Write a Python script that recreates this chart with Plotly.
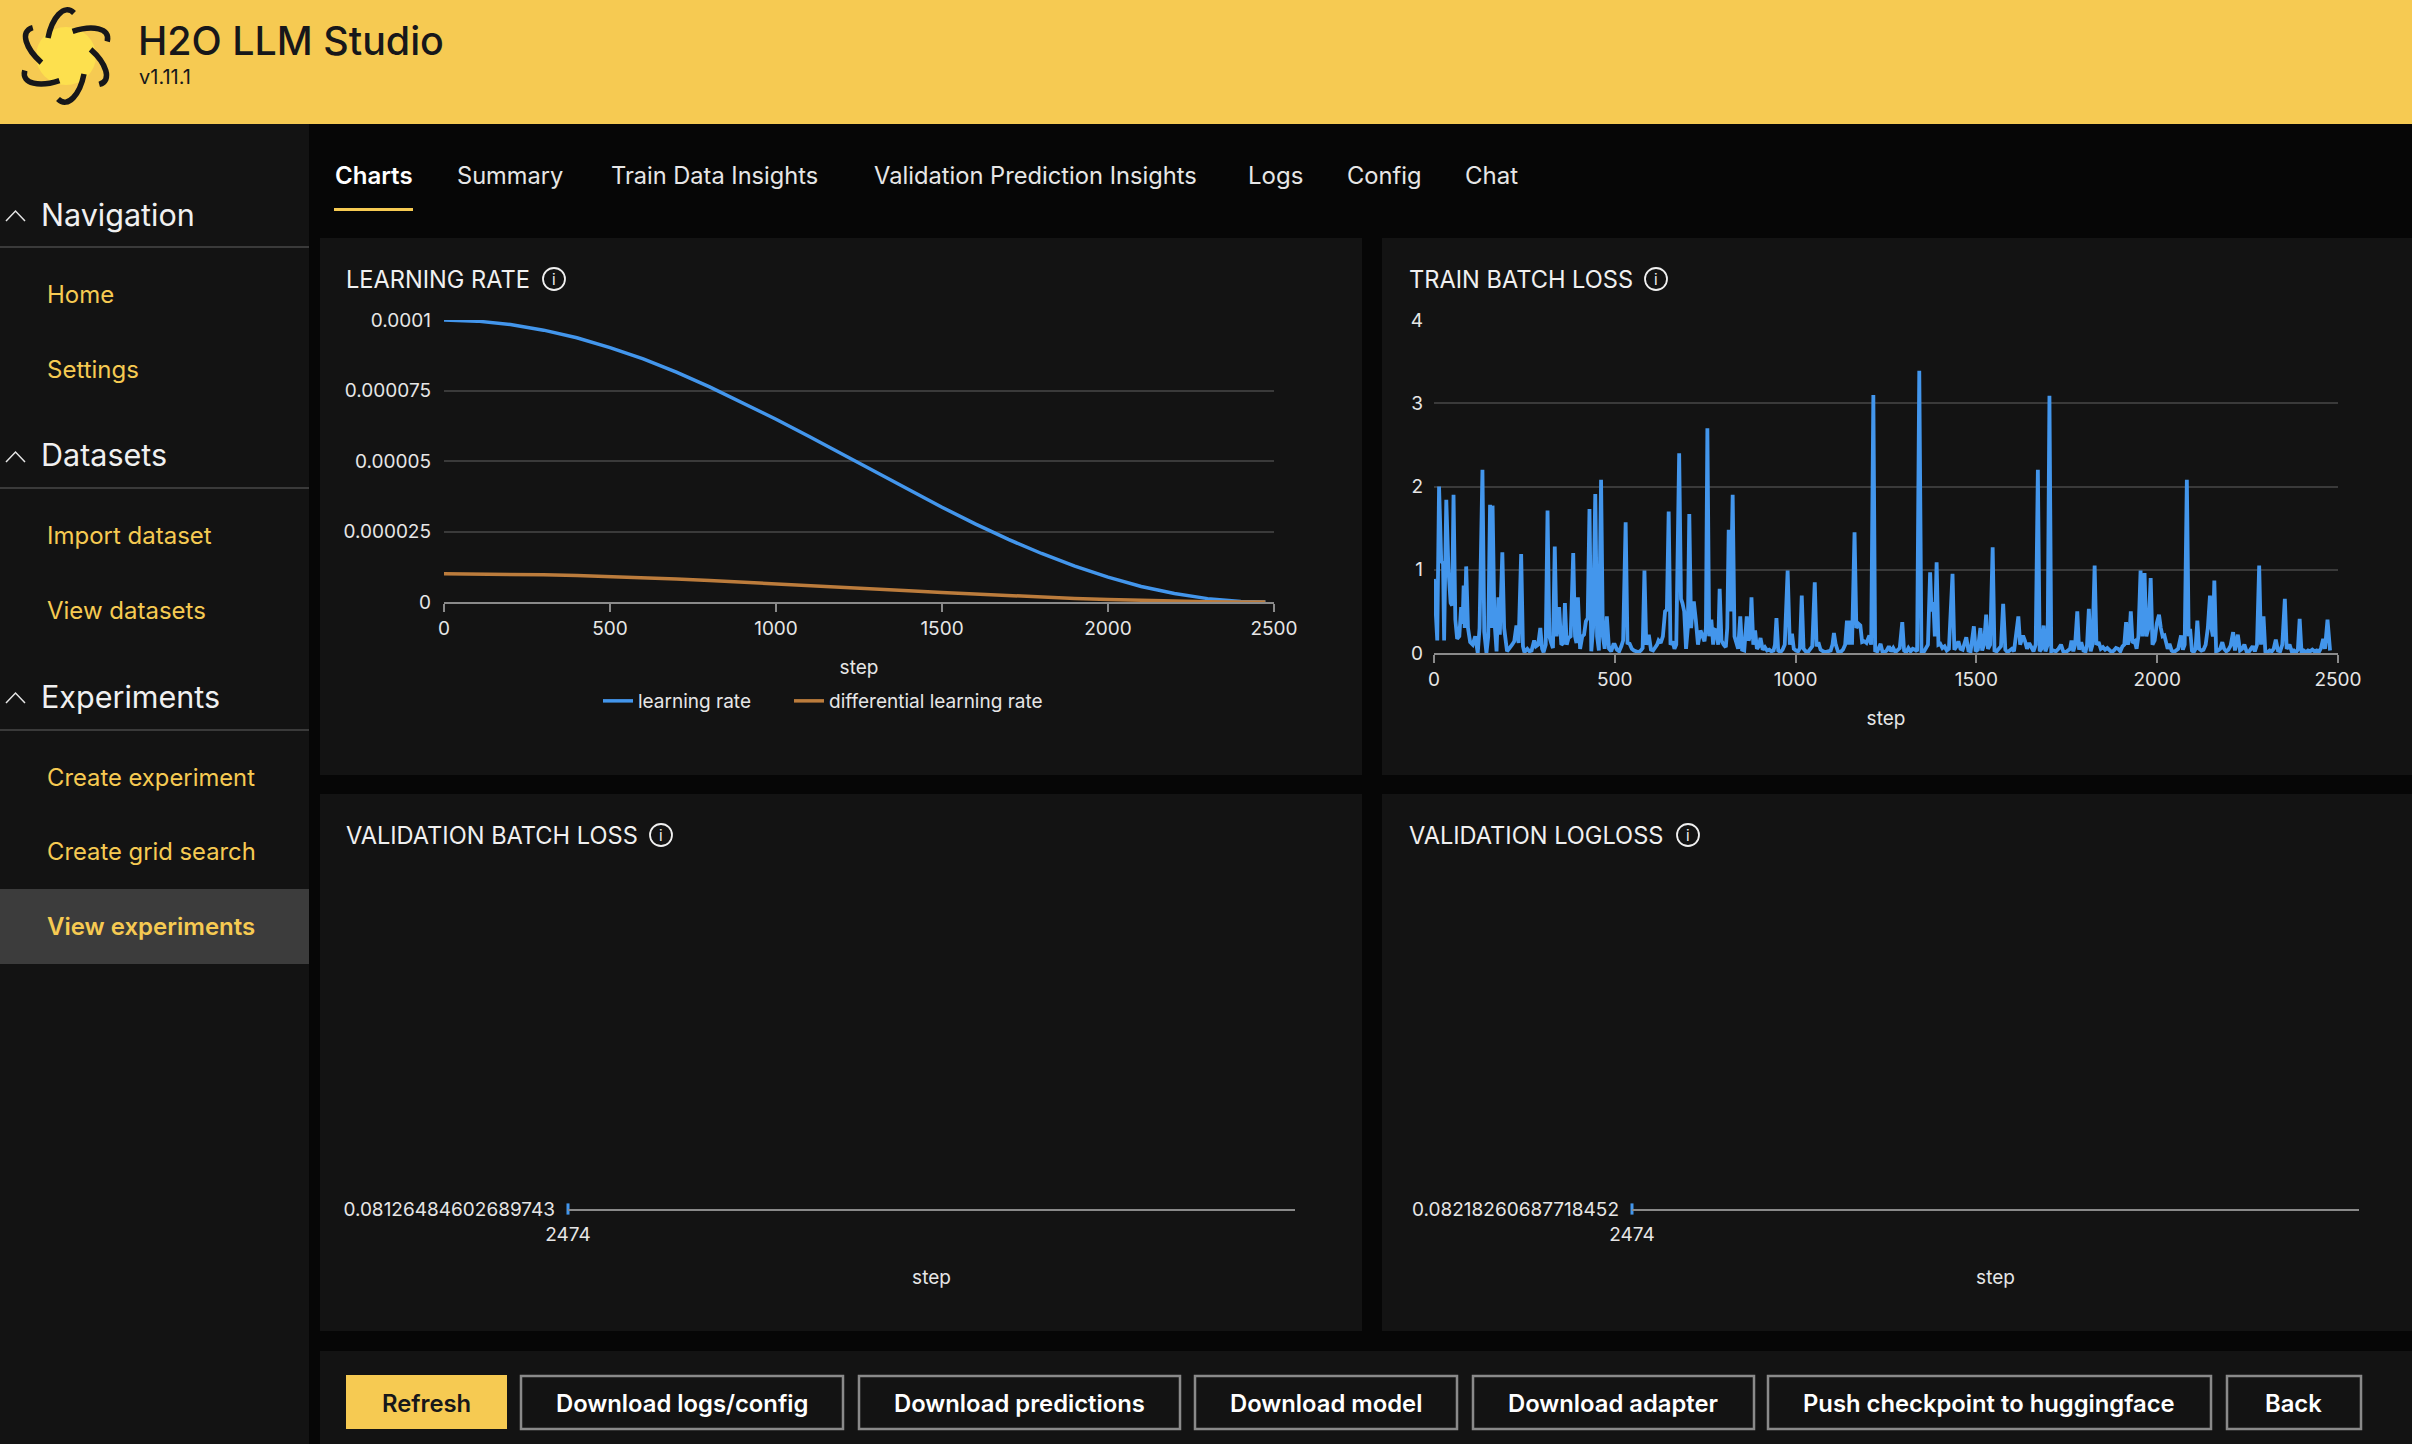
import numpy as np
import plotly.graph_objects as go

# Tamaño de la captura completa
W = 2412
H = 1444

AMARILLO = "#F6CA52"
FONDO = "#060606"
TARJETA = "#131313"
REJILLA = "#3A3A3A"
EJE = "#8A8A8A"
TEXTO = "#E6E6E6"
AZUL = "#4396EC"
NARANJA = "#BC7C3C"


def px(x):
    return x / W


def py(y):
    return 1 - y / H


# Curvas de learning rate
lr_steps = [0, 100, 200, 300, 400, 500, 600, 700, 800, 900, 1000, 1100, 1200, 1300,
            1400, 1500, 1600, 1700, 1800, 1900, 2000, 2100, 2200, 2300, 2400, 2474]
lr = [1.0e-4, 9.96e-5, 9.84e-5, 9.64e-5, 9.37e-5, 9.02e-5, 8.62e-5, 8.15e-5, 7.63e-5,
      7.07e-5, 6.48e-5, 5.87e-5, 5.24e-5, 4.6e-5, 3.97e-5, 3.36e-5, 2.77e-5, 2.22e-5,
      1.72e-5, 1.27e-5, 8.8e-6, 5.5e-6, 3.0e-6, 1.2e-6, 2e-7, 0]
diff_lr = [1.0e-5, 9.96e-6, 9.84e-6, 9.64e-6, 9.37e-6, 9.02e-6, 8.62e-6, 8.15e-6, 7.63e-6,
           7.07e-6, 6.48e-6, 5.87e-6, 5.24e-6, 4.6e-6, 3.97e-6, 3.36e-6, 2.77e-6, 2.22e-6,
           1.72e-6, 1.27e-6, 8.8e-7, 5.5e-7, 3.0e-7, 1.2e-7, 2e-8, 0]

# Train batch loss: (step, loss)
train_loss = [
    (0, .89), (9, .15), (14, 2.0), (20, 1.1), (25, 1.08), (28, .15), (34, 1.84), (40, 1.0), (46, .6), (50, .57),
    (54, 1.9), (59, .4), (64, .17), (70, .2), (75, .55), (79, .35), (82, .81), (85, .3), (89, 1.04), (94, .3),
    (100, .13), (107, .1), (114, .2), (118, .05), (121, 0), (126, .3), (134, 2.2), (139, .25), (145, 0), (150, .2),
    (155, 1.78), (158, .3), (162, 1.77), (167, .4), (173, .02), (178, .67), (182, .22), (189, 1.21), (194, .3), (202, .02),
    (210, .06), (216, .1), (222, .14), (228, .33), (234, .12), (241, 1.19), (246, .08), (250, .01), (258, .05), (264, .02),
    (270, .03), (277, .15), (282, .08), (288, .1), (294, .3), (299, .05), (303, .01), (309, .1), (314, 1.71), (319, .2),
    (324, .12), (329, .06), (334, 1.28), (339, .2), (346, .55), (352, .1), (358, .12), (362, .6), (367, .1), (372, .18),
    (378, .2), (385, 1.2), (390, .2), (394, .12), (398, .67), (404, .05), (410, .2), (415, .22), (420, .38), (425, .42),
    (430, 1.73), (435, .02), (440, .3), (446, 1.91), (451, .2), (456, .03), (462, 2.08), (467, .2), (472, .05), (478, .44),
    (484, .05), (490, .02), (496, .1), (500, .1), (506, .04), (512, .02), (518, .08), (523, .15), (530, 1.57), (535, .12),
    (541, .11), (547, .05), (553, .03), (560, .02), (566, .01), (572, .03), (577, .06), (582, .99), (587, .1), (594, .22),
    (600, .04), (606, .03), (612, .06), (617, .1), (621, .15), (627, .12), (633, .2), (639, .5), (644, .52), (649, 1.7),
    (654, .1), (660, .14), (665, .05), (670, .1), (678, 2.4), (683, .65), (687, .6), (692, .5), (697, .05), (702, .3),
    (706, 1.67), (711, .3), (716, .6), (719, .6), (724, .4), (730, .1), (737, .27), (742, .2), (748, .14), (752, .3),
    (756, 2.7), (761, .2), (767, .4), (772, .1), (776, .28), (781, .27), (786, .1), (790, .77), (795, .15), (801, .1),
    (807, .07), (811, .3), (815, 1.48), (820, .5), (826, 1.9), (831, .2), (836, .1), (841, .05), (847, .44), (852, .04),
    (858, .03), (865, .44), (870, .15), (874, .2), (878, .67), (883, .1), (888, .27), (893, .05), (898, .08), (903, .18),
    (909, .04), (915, .07), (921, .03), (927, .04), (933, .02), (939, .03), (943, .1), (947, .42), (952, .03), (958, .01),
    (964, .04), (970, .1), (978, .99), (984, .1), (990, .23), (995, .05), (1001, .03), (1007, .02), (1012, .06), (1017, .69),
    (1022, .05), (1028, .02), (1034, .01), (1040, .04), (1046, .08), (1053, .85), (1058, .08), (1063, .13), (1069, .04), (1076, .02),
    (1083, .01), (1090, .02), (1097, .03), (1102, .1), (1106, .24), (1111, .1), (1117, .02), (1124, .01), (1131, .04), (1137, .1),
    (1142, .39), (1146, .1), (1151, .39), (1156, .1), (1163, 1.45), (1168, .3), (1174, .35), (1179, .33), (1184, .13), (1190, .14),
    (1196, .12), (1204, .21), (1209, .1), (1215, 3.1), (1220, .03), (1226, .02), (1230, .05), (1235, .11), (1240, .02), (1246, .01),
    (1252, .03), (1258, .08), (1264, .02), (1270, .06), (1276, .01), (1282, .04), (1288, .06), (1295, .37), (1300, .03), (1306, .01),
    (1312, .06), (1318, .02), (1324, .05), (1330, .04), (1336, .02), (1342, 3.39), (1348, .02), (1354, .01), (1360, .05), (1366, .1),
    (1372, .97), (1376, .5), (1381, .61), (1385, .2), (1390, 1.09), (1395, .1), (1400, .11), (1406, .06), (1412, .08), (1418, .03),
    (1424, .05), (1434, .95), (1439, .04), (1445, .08), (1450, .14), (1456, .05), (1462, .04), (1472, .19), (1478, .03), (1484, .02),
    (1493, .32), (1498, .02), (1504, .04), (1511, .3), (1516, .03), (1521, .1), (1527, .46), (1532, .05), (1538, .1), (1545, 1.27),
    (1550, .03), (1556, .02), (1562, .05), (1568, .08), (1574, .59), (1580, .04), (1586, .01), (1592, .03), (1598, .05), (1604, .02),
    (1610, .2), (1616, .44), (1621, .1), (1629, .21), (1634, .15), (1640, .05), (1646, .12), (1652, .08), (1658, .02), (1664, .1),
    (1670, 2.2), (1675, .02), (1680, .05), (1686, .33), (1691, .02), (1697, .1), (1702, 3.09), (1707, .02), (1713, .03), (1720, .02),
    (1727, .05), (1734, .1), (1740, .02), (1747, .01), (1753, .03), (1759, .05), (1763, .15), (1768, .02), (1773, .1), (1779, .5),
    (1784, .04), (1790, .13), (1796, .03), (1802, .02), (1806, .1), (1811, .53), (1816, .02), (1821, .1), (1827, 1.05), (1832, .1),
    (1838, .13), (1844, .05), (1850, .07), (1856, .04), (1862, .06), (1868, .03), (1874, .01), (1880, .03), (1886, .06), (1892, .05),
    (1898, .02), (1904, .08), (1909, .1), (1914, .37), (1919, .1), (1923, .2), (1927, .5), (1932, .12), (1938, .14), (1943, .05),
    (1948, .2), (1954, .99), (1959, .2), (1965, .96), (1970, .2), (1976, .3), (1982, .9), (1987, .1), (1993, .15), (1999, .36),
    (2005, .46), (2010, .3), (2015, .2), (2020, .21), (2025, .1), (2029, .05), (2034, .11), (2040, .03), (2046, .01), (2052, .03),
    (2058, .05), (2066, .21), (2071, .04), (2076, .1), (2082, 2.08), (2087, .2), (2091, .29), (2096, .03), (2101, .01), (2106, .05),
    (2111, .39), (2116, .05), (2122, .03), (2128, .04), (2134, .1), (2140, .3), (2146, .69), (2150, .3), (2154, .2), (2158, .87),
    (2163, .02), (2168, .03), (2174, .05), (2180, .13), (2185, .05), (2191, .02), (2197, .04), (2203, .09), (2210, .25), (2215, .03),
    (2223, .22), (2229, .03), (2235, .05), (2241, .1), (2247, .02), (2253, .01), (2259, .04), (2264, .08), (2270, .02), (2276, .1),
    (2282, 1.05), (2287, .1), (2294, .44), (2299, .02), (2305, .01), (2311, .03), (2317, .02), (2322, .05), (2328, .16), (2334, .03),
    (2340, .02), (2346, .1), (2353, .65), (2358, .05), (2366, .1), (2372, .02), (2378, .03), (2384, .01), (2389, .04), (2394, .41),
    (2399, .02), (2405, .03), (2411, .01), (2417, .03), (2423, .02), (2429, .04), (2435, .02), (2441, .03), (2447, .01), (2453, .06),
    (2459, .17), (2464, .05), (2471, .4), (2476, .1), (2478, .03),
]
train_steps = [p[0] for p in train_loss]
train_vals = [p[1] for p in train_loss]

# Punto único de validación
val_step = [2474]
val_batch = [0.08126484602689743]
val_logloss = [0.08218260687718452]

fig = go.Figure(data=[
    go.Scatter(x=lr_steps, y=lr, mode="lines", name="learning rate", xaxis="x", yaxis="y", legend="legend",
               line=dict(color=AZUL, width=3.5), cliponaxis=False),
    go.Scatter(x=lr_steps, y=diff_lr, mode="lines", name="differential learning rate", xaxis="x", yaxis="y",
               legend="legend2", line=dict(color=NARANJA, width=3.5), cliponaxis=False),
    go.Scatter(x=train_steps, y=train_vals, mode="lines", xaxis="x2", yaxis="y2", showlegend=False,
               line=dict(color=AZUL, width=3.8), cliponaxis=False),
    go.Scatter(x=val_step, y=val_batch, mode="markers", xaxis="x3", yaxis="y3", showlegend=False,
               marker=dict(symbol="line-ns-open", size=8, color=AZUL, line=dict(color=AZUL, width=3)), cliponaxis=False),
    go.Scatter(x=val_step, y=val_logloss, mode="markers", xaxis="x4", yaxis="y4", showlegend=False,
               marker=dict(symbol="line-ns-open", size=8, color=AZUL, line=dict(color=AZUL, width=3)), cliponaxis=False),
])

# Rectángulos del fondo de la interfaz
rects = [
    (0, 124, W, H, FONDO, None),
    (0, 0, W, 124, AMARILLO, None),
    (0, 124, 309, H, TARJETA, None),
    (320, 238, 1362, 775, TARJETA, None),
    (1382, 238, W, 775, TARJETA, None),
    (320, 794, 1362, 1331, TARJETA, None),
    (1382, 794, W, 1331, TARJETA, None),
    (320, 1351, W, H, TARJETA, None),
    (0, 889, 309, 964, "#3C3C3C", None),
    (334, 208, 413, 211, AMARILLO, None),
    (346, 1375, 507, 1429, AMARILLO, None),
    (521, 1376, 843, 1429, TARJETA, EJE),
    (859, 1376, 1180, 1429, TARJETA, EJE),
    (1195, 1376, 1457, 1429, TARJETA, EJE),
    (1473, 1376, 1754, 1429, TARJETA, EJE),
    (1768, 1376, 2211, 1429, TARJETA, EJE),
    (2227, 1376, 2361, 1429, TARJETA, EJE),
]
for x0, y0, x1, y1, color, borde in rects:
    fig.add_shape(type="rect", xref="paper", yref="paper", layer="below",
                  x0=px(x0), y0=py(y0), x1=px(x1), y1=py(y1), fillcolor=color,
                  line=dict(color=borde, width=2.5) if borde else dict(width=0))

# Separadores y flechas de la barra lateral
for y in [247, 488, 730]:
    fig.add_shape(type="line", xref="paper", yref="paper", layer="below",
                  x0=0, x1=px(309), y0=py(y), y1=py(y), line=dict(color=REJILLA, width=2))
for y in [215, 456, 697]:
    camino = f"M {px(6)} {py(y + 6)} L {px(15.5)} {py(y - 4)} L {px(25)} {py(y + 6)}"
    fig.add_shape(type="path", path=camino, xref="paper", yref="paper",
                  line=dict(color=TEXTO, width=1.5))

# Iconos de información
for x, y in [(554, 279), (1656, 279), (661, 835), (1688, 835)]:
    fig.add_shape(type="circle", xref="paper", yref="paper",
                  x0=px(x - 11), x1=px(x + 11), y0=py(y + 11), y1=py(y - 11),
                  line=dict(color="#F0F0F0", width=1.8))

# Logo: mancha amarilla y seis aspas curvas
fig.add_shape(type="circle", xref="paper", yref="paper", layer="below",
              x0=px(36), x1=px(96), y0=py(85), y1=py(27), fillcolor="#FDE04E", line=dict(width=0))
aspa = np.array([[8, -43], [-2, -53], [-14, -38], [-18, -18]])
for k in range(6):
    ang = np.radians(60 * k)
    rot = np.array([[np.cos(ang), -np.sin(ang)], [np.sin(ang), np.cos(ang)]])
    p = aspa @ rot.T + np.array([66, 56])
    camino = (f"M {px(p[0][0])} {py(p[0][1])} C {px(p[1][0])} {py(p[1][1])} "
              f"{px(p[2][0])} {py(p[2][1])} {px(p[3][0])} {py(p[3][1])}")
    fig.add_shape(type="path", path=camino, xref="paper", yref="paper",
                  line=dict(color="#17171A", width=5.5))

# Textos de la interfaz: texto, x, y, tamaño, color, peso
textos = [
    ("H2O LLM Studio", 137, 41, 39.4, "#17171A", 500),
    ("v1.11.1", 138, 77, 20, "#17171A", 400),
    ("Charts", 334, 175, 24, "#FFFFFF", 600),
    ("Summary", 456, 175, 23.6, TEXTO, 400),
    ("Train Data Insights", 610, 175, 23.6, TEXTO, 400),
    ("Validation Prediction Insights", 873, 175, 23.7, TEXTO, 400),
    ("Logs", 1247, 175, 24, TEXTO, 400),
    ("Config", 1346, 175, 23.7, TEXTO, 400),
    ("Chat", 1464, 175, 24, TEXTO, 400),
    ("Navigation", 39.5, 214, 30.5, "#F0F0F0", 400),
    ("Home", 46, 294.5, 24, AMARILLO, 400),
    ("Settings", 46, 369.5, 24, AMARILLO, 400),
    ("Datasets", 39.5, 455, 30.5, "#F0F0F0", 400),
    ("Import dataset", 46, 535, 24, AMARILLO, 400),
    ("View datasets", 46, 610.5, 24, AMARILLO, 400),
    ("Experiments", 39.5, 696.5, 30.5, "#F0F0F0", 400),
    ("Create experiment", 46, 777.5, 23.8, AMARILLO, 400),
    ("Create grid search", 46, 851.5, 23.8, AMARILLO, 400),
    ("View experiments", 46, 926.5, 24, AMARILLO, 600),
    ("LEARNING RATE", 345, 279, 23.6, "#F0F0F0", 400),
    ("TRAIN BATCH LOSS", 1408, 279, 23.6, "#F0F0F0", 400),
    ("VALIDATION BATCH LOSS", 345, 835, 23.6, "#F0F0F0", 400),
    ("VALIDATION LOGLOSS", 1408, 835, 23.6, "#F0F0F0", 400),
]
for texto, x, y, size, color, peso in textos:
    fig.add_annotation(text=texto, xref="paper", yref="paper", x=px(x), y=py(y), showarrow=False,
                       xanchor="left", yanchor="middle", borderpad=0,
                       font=dict(family="Inter", size=size, color=color, weight=peso))

# La "i" de cada icono
for x, y in [(554, 279), (1656, 279), (661, 835), (1688, 835)]:
    fig.add_annotation(text="i", xref="paper", yref="paper", x=px(x), y=py(y), showarrow=False,
                       xanchor="center", yanchor="middle", borderpad=0,
                       font=dict(family="Inter", size=15, color="#F0F0F0"))

# Botones del pie
botones = [
    ("Refresh", 426.5, "#17171A"),
    ("Download logs/config", 681.5, "#FFFFFF"),
    ("Download predictions", 1019, "#FFFFFF"),
    ("Download model", 1326, "#FFFFFF"),
    ("Download adapter", 1613, "#FFFFFF"),
    ("Push checkpoint to huggingface", 1989, "#FFFFFF"),
    ("Back", 2293.5, "#FFFFFF"),
]
for texto, x, color in botones:
    fig.add_annotation(text=texto, xref="paper", yref="paper", x=px(x), y=py(1403), showarrow=False,
                       xanchor="center", yanchor="middle", borderpad=0,
                       font=dict(family="Inter", size=23.8, color=color, weight=600))

fuente_ticks = dict(family="Inter", size=19, color=TEXTO)
fuente_titulo = dict(family="Inter", size=19, color=TEXTO)
fuente_leyenda = dict(family="Inter", size=19, color=TEXTO)

fig.update_layout(
    width=W,
    height=H,
    margin=dict(l=0, r=0, t=0, b=0),
    autosize=False,
    template="none",
    paper_bgcolor=FONDO,
    plot_bgcolor="rgba(0,0,0,0)",
    font=dict(family="Inter", size=19, color=TEXTO),
    legend=dict(orientation="h", x=px(598), y=py(701), xanchor="left", yanchor="middle",
                bgcolor="rgba(0,0,0,0)", font=fuente_leyenda),
    legend2=dict(orientation="h", x=px(789), y=py(701), xanchor="left", yanchor="middle",
                 bgcolor="rgba(0,0,0,0)", font=fuente_leyenda),
    # Learning rate
    xaxis=dict(domain=[px(444), px(1274)], range=[0, 2500], anchor="y", tickvals=[0, 500, 1000, 1500, 2000, 2500],
               automargin=False, showgrid=False, zeroline=False, showline=True, linecolor=EJE, linewidth=2,
               ticks="outside", ticklen=8, tickcolor=EJE, tickwidth=2, tickfont=fuente_ticks,
               title=dict(text="step", font=fuente_titulo, standoff=22)),
    yaxis=dict(domain=[py(602), py(320)], range=[0, 1e-4], anchor="x",
               tickvals=[0, 2.5e-5, 5e-5, 7.5e-5, 1e-4], ticktext=["0", "0.000025", "0.00005", "0.000075", "0.0001"],
               automargin=False, gridcolor=REJILLA, gridwidth=2, zeroline=False, showline=False, ticks="",
               tickfont=fuente_ticks, ticklabelstandoff=12),
    # Train batch loss
    xaxis2=dict(domain=[px(1434), px(2338)], range=[0, 2500], anchor="y2", tickvals=[0, 500, 1000, 1500, 2000, 2500],
                automargin=False, showgrid=False, zeroline=False, showline=True, linecolor=EJE, linewidth=2,
                ticks="outside", ticklen=8, tickcolor=EJE, tickwidth=2, tickfont=fuente_ticks,
                title=dict(text="step", font=fuente_titulo, standoff=22)),
    yaxis2=dict(domain=[py(653), py(320)], range=[0, 4], anchor="x2", tickvals=[0, 1, 2, 3, 4],
                automargin=False, gridcolor=REJILLA, gridwidth=2, zeroline=False, showline=False, ticks="",
                tickfont=fuente_ticks, ticklabelstandoff=10),
    # Validation batch loss
    xaxis3=dict(domain=[px(568), px(1295)], range=[2474, 2475], anchor="y3", tickvals=[2474], tickformat="d",
                automargin=False, showgrid=False, zeroline=False, showline=True, linecolor=EJE, linewidth=2,
                ticks="", tickfont=fuente_ticks, ticklabelstandoff=7,
                title=dict(text="step", font=fuente_titulo, standoff=26)),
    yaxis3=dict(domain=[py(1209), py(1207)], range=[val_batch[0], val_batch[0] + 1], anchor="x3",
                tickvals=val_batch, ticktext=["0.08126484602689743"], showgrid=False, zeroline=False,
                automargin=False, showline=False, ticks="", tickfont=fuente_ticks, ticklabelstandoff=12),
    # Validation logloss
    xaxis4=dict(domain=[px(1632), px(2359)], range=[2474, 2475], anchor="y4", tickvals=[2474], tickformat="d",
                automargin=False, showgrid=False, zeroline=False, showline=True, linecolor=EJE, linewidth=2,
                ticks="", tickfont=fuente_ticks, ticklabelstandoff=7,
                title=dict(text="step", font=fuente_titulo, standoff=26)),
    yaxis4=dict(domain=[py(1209), py(1207)], range=[val_logloss[0], val_logloss[0] + 1], anchor="x4",
                tickvals=val_logloss, ticktext=["0.08218260687718452"], showgrid=False, zeroline=False,
                automargin=False, showline=False, ticks="", tickfont=fuente_ticks, ticklabelstandoff=12),
)

# Guardar versión HTML
fig.write_html("out.html", config={"displayModeBar": False},
               post_script="document.body.style.margin='0';")
